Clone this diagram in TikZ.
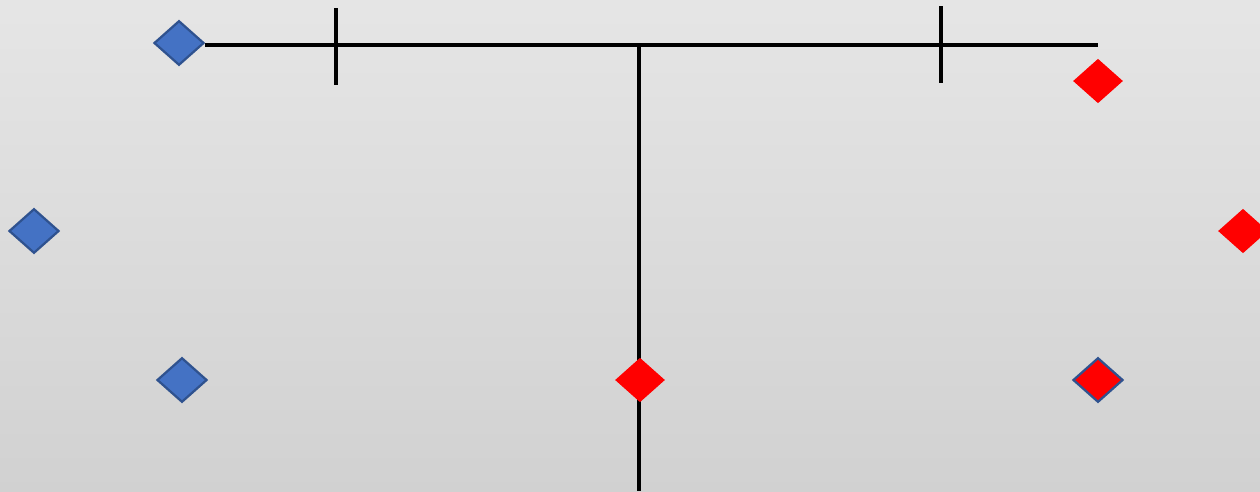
\documentclass[tikz,border=0pt]{standalone}
\usepackage{tikz}
\usetikzlibrary{shapes.geometric}

\definecolor{bluefill}{HTML}{4472C4}
\definecolor{blueedge}{HTML}{2F528F}
\definecolor{redfill}{HTML}{FF0000}

\begin{document}
\begin{tikzpicture}[
    x=0.2mm, y=-0.2mm,
    gem/.style={
        diamond,
        inner sep=0pt,
        minimum width=10mm,
        minimum height=8.9mm
    },
    bluegem/.style={
        gem,
        fill=bluefill,
        draw=blueedge,
        line width=0.45mm
    },
    redgem/.style={
        gem,
        fill=redfill
    },
    bar/.style={
        line width=0.85mm,
        black
    }
]
    % --- Background ---
    \shade[top color=black!10, bottom color=black!18] (0,0) rectangle (1260,491);
    \useasboundingbox (0,0) rectangle (1260,491);

    % --- Points on the bars ---
    \coordinate (hend)  at (1098,45);
    \coordinate (junc)  at (639,45);
    \coordinate (vend)  at (639,491);
    \coordinate (tickAtop) at (336,8);
    \coordinate (tickAbot) at (336,85);
    \coordinate (tickBtop) at (941,6);
    \coordinate (tickBbot) at (941,83);

    % --- Bars ---
    \node[bluegem] (blueTop) at (179,43) {};
    \draw[bar] (blueTop.east |- hend) -- (hend);
    \draw[bar] (junc) -- (vend);
    \draw[bar] (tickAtop) -- (tickAbot);
    \draw[bar] (tickBtop) -- (tickBbot);

    % --- Markers ---
    \node[bluegem] (blueLeft)   at (34,231)  {};
    \node[bluegem] (blueBottom) at (182,380) {};
    \node[redgem]  (redTop)     at (1098,81) {};
    \node[redgem]  (redRight)   at (1243,231) {};
    \node[redgem]  (redMid)     at (640,380) {};
    \node[redgem, draw=blueedge, line width=0.45mm] (redBottom) at (1098,380) {};
\end{tikzpicture}
\end{document}
